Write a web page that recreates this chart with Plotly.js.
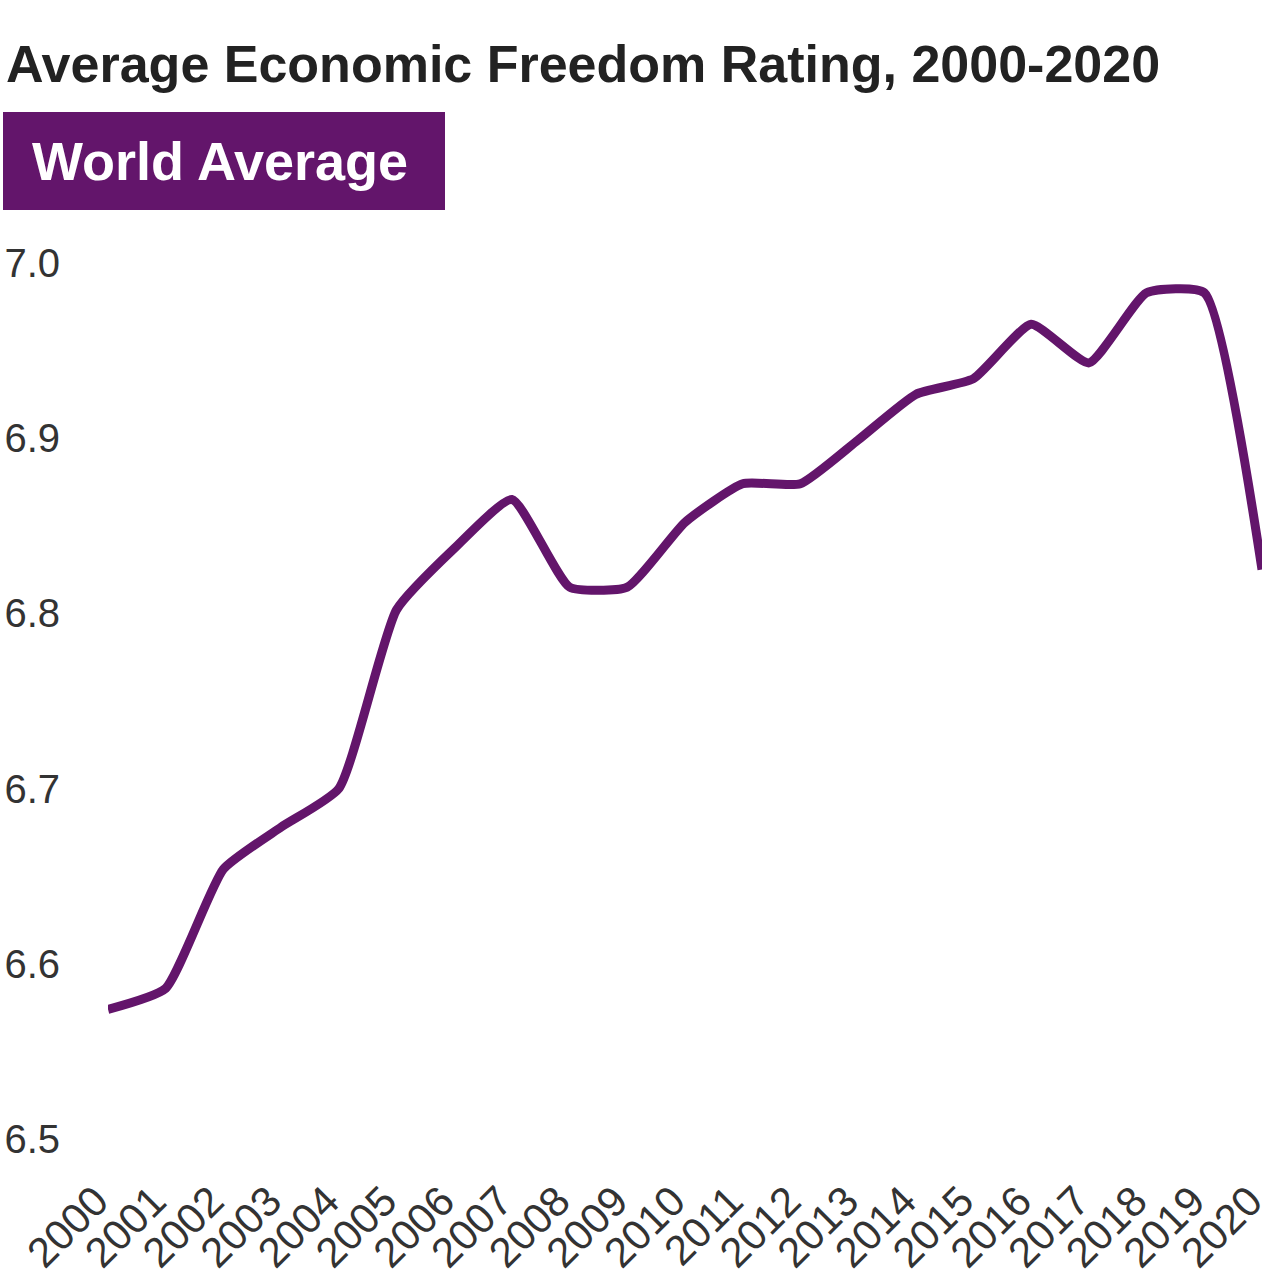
<!DOCTYPE html>
<html>
<head>
<meta charset="utf-8">
<script src="https://cdn.plot.ly/plotly-3.0.1.min.js"></script>
<style>html,body{margin:0;padding:0;background:#fff;}#chart{width:1284px;height:1284px;}</style>
</head>
<body>
<div id="chart"></div>
<script>
const years = [2000,2001,2002,2003,2004,2005,2006,2007,2008,2009,2010,2011,2012,2013,2014,2015,2016,2017,2018,2019,2020];
const worldAverage = [6.574,6.586,6.654,6.678,6.700,6.802,6.837,6.865,6.815,6.815,6.852,6.874,6.874,6.899,6.925,6.934,6.965,6.943,6.983,6.983,6.825];
const yTicks = [6.5,6.6,6.7,6.8,6.9,7.0];
const yTickLabels = ['6.5','6.6','6.7','6.8','6.9','7.0'];
const titleText = 'Average Economic Freedom Rating, 2000-2020';
const seriesLabel = 'World Average';

const purple = '#63156b';
const W = 1284, H = 1284;
const L = 108, R = 22, T = 263, B = 145;
const pw = W - L - R, ph = H - T - B;
const px = x => (x - L) / pw;
const py = y => (H - B - y) / ph;

const trace = {
  x: years, y: worldAverage, type: 'scatter', mode: 'lines',
  line: {color: purple, width: 9, shape: 'spline', smoothing: 0.5},
  hoverinfo: 'x+y', showlegend: false
};

const layout = {
  width: W, height: H,
  margin: {l: L, r: R, t: T, b: B, pad: 0},
  paper_bgcolor: '#fff', plot_bgcolor: '#fff',
  font: {family: 'Liberation Sans, Arial, sans-serif', color: '#333'},
  title: {
    text: '<b>' + titleText + '</b>',
    xref: 'container', yref: 'container', x: 6/W, xanchor: 'left',
    y: 1 - 64/H, yanchor: 'middle',
    font: {family: 'Liberation Sans, Arial, sans-serif', size: 52, color: '#222'}
  },
  xaxis: {
    range: [2000, 2020], tickmode: 'array', tickvals: years, ticktext: years.map(String),
    tickangle: -45, showgrid: false, zeroline: false, showline: false, ticks: '',
    ticklabelstandoff: 28, ticklabelshift: -12,
    tickfont: {size: 42, color: '#333', family: 'Liberation Sans, Arial, sans-serif'}
  },
  yaxis: {
    range: [6.5, 7.0], tickmode: 'array', tickvals: yTicks, ticktext: yTickLabels,
    showgrid: false, zeroline: false, showline: false, ticks: '',
    ticklabelstandoff: 47,
    tickfont: {size: 40, color: '#333', family: 'Liberation Sans, Arial, sans-serif'}
  },
  shapes: [{
    type: 'rect', xref: 'paper', yref: 'paper',
    x0: px(3), x1: px(445), y0: py(210), y1: py(112),
    fillcolor: purple, line: {width: 0}, layer: 'above'
  }],
  annotations: [{
    text: '<b>' + seriesLabel + '</b>', xref: 'paper', yref: 'paper',
    x: px(30), xanchor: 'left', y: py(161), yanchor: 'middle', showarrow: false,
    font: {family: 'Liberation Sans, Arial, sans-serif', size: 54, color: '#fff'}
  }]
};

Plotly.newPlot('chart', [trace], layout, {staticPlot: true, displayModeBar: false});
</script>
</body>
</html>
